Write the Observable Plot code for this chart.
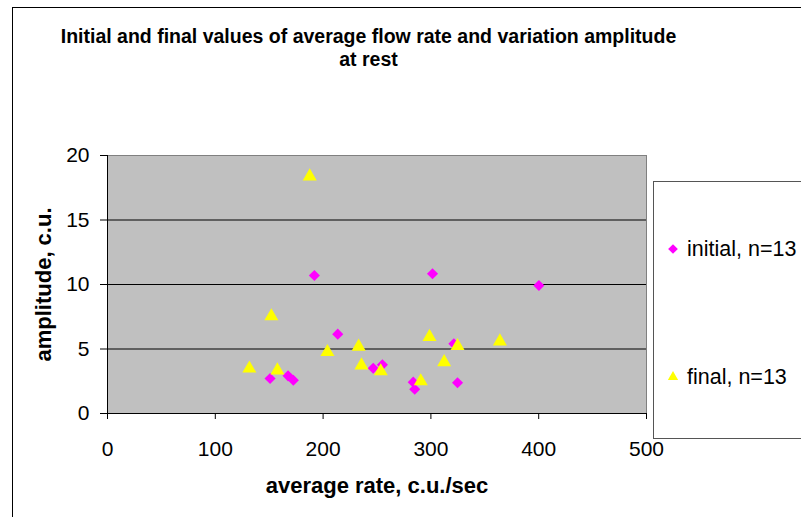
<!DOCTYPE html>
<html>
<head>
<meta charset="utf-8">
<script src="https://cdn.jsdelivr.net/npm/d3@7"></script>
<script src="https://cdn.jsdelivr.net/npm/@observablehq/plot@0.6"></script>
<style>
  html, body { margin: 0; padding: 0; background: #fff; overflow: hidden; }
  #wrap { position: relative; width: 801px; height: 517px; overflow: hidden; font-family: "Liberation Sans", Arial, sans-serif; }
  #outer { position: absolute; left: 12px; top: 7px; width: 900px; height: 700px; border: 1px solid #000; box-sizing: border-box; }
  #title { position: absolute; left: 0; width: 737px; top: 25px; text-align: center; font-weight: bold; font-size: 19.5px; line-height: 23px; color: #000; }
  #chart { position: absolute; left: 0; top: 0; }
  #legend { position: absolute; left: 653px; top: 181px; width: 300px; height: 258px; border: 1px solid #555; box-sizing: border-box; background: #fff; }
  .leg { position: absolute; left: 0; font-size: 21.5px; color: #000; white-space: nowrap; }
</style>
</head>
<body>
<div id="wrap">
  <div id="outer"></div>
  <div id="chart"></div>
  <div id="title">Initial and final values of average flow rate and variation amplitude<br>at rest</div>
  <div id="legend"></div>
</div>
<script>
// ---- data ----
const initialRate = [191.9, 213.6, 150.8, 167.5, 172.4, 246.5, 301.5, 400.2, 321.3, 255.0, 283.6, 285.0, 324.7];
const initialAmp  = [10.7, 6.15, 2.71, 2.92, 2.58, 3.51, 10.83, 9.92, 5.4, 3.77, 2.43, 1.88, 2.38];
const finalRate   = [187.6, 152.0, 233.0, 204.0, 235.6, 131.6, 157.6, 298.7, 324.7, 364.0, 312.3, 253.5, 290.6];
const finalAmp    = [18.5, 7.65, 5.3, 4.88, 3.85, 3.6, 3.46, 6.05, 5.35, 5.71, 4.1, 3.39, 2.61];
const seriesNames = ["initial, n=13", "final, n=13"];
const xTicks = [0, 100, 200, 300, 400, 500];
const yTicks = [0, 5, 10, 15, 20];
const gridValues = [5, 10, 15];
const xTitle = "average rate, c.u./sec";
const yTitle = "amplitude, c.u.";

const initial = initialRate.map((r, i) => ({rate: r, amp: initialAmp[i]}));
const final = finalRate.map((r, i) => ({rate: r, amp: finalAmp[i]}));

const chart = Plot.plot({
  width: 801,
  height: 517,
  marginLeft: 107,
  marginRight: 155,
  marginTop: 155,
  marginBottom: 104,
  style: {background: "transparent", fontFamily: "Liberation Sans, Arial, sans-serif", overflow: "visible"},
  x: {domain: [0, 500], ticks: xTicks},
  y: {domain: [0, 20], ticks: yTicks},
  marks: [
    Plot.frame({fill: "#c0c0c0", stroke: "#808080"}),
    Plot.gridY(gridValues, {stroke: "#000", strokeOpacity: 1, strokeWidth: 1}),
    Plot.ruleX([0], {stroke: "#000"}),
    Plot.ruleY([0], {stroke: "#000"}),
    Plot.axisX(xTicks, {tickSize: 6, tickPadding: 22, fontSize: 21, label: null, stroke: "#000", color: "#000"}),
    Plot.axisY(yTicks, {tickSize: 7, tickPadding: 11, fontSize: 21, label: null, stroke: "#000", color: "#000"}),
    Plot.dot(initial, {x: "rate", y: "amp", symbol: "diamond2", r: 5, fill: "#ff00ff", stroke: "none"}),
    Plot.dot(final, {x: "rate", y: "amp", symbol: "triangle", r: 5.2, fill: "#ffff00", stroke: "none", dy: 1.5}),
    Plot.text([xTitle], {frameAnchor: "bottom", dy: 79, fontSize: 22, fontWeight: "bold", fill: "#000"}),
    Plot.text([yTitle], {frameAnchor: "left", textAnchor: "middle", dx: -64, rotate: -90, fontSize: 22, fontWeight: "bold", fill: "#000"})
  ]
});
document.getElementById("chart").appendChild(chart);

// legend
const legend = document.getElementById("legend");
const symbols = [
  {name: seriesNames[0], color: "#ff00ff", type: d3.symbolDiamond2, size: 60, top: 55},
  {name: seriesNames[1], color: "#ffff00", type: d3.symbolTriangle2, size: 75, top: 183}
];
symbols.forEach(s => {
  const row = document.createElement("div");
  row.className = "leg";
  row.style.top = s.top + "px";
  const svg = d3.create("svg").attr("width", 30).attr("height", 24).style("position", "absolute").style("left", "6px").style("top", "0px");
  svg.append("path").attr("transform", "translate(13,12)").attr("d", d3.symbol(s.type, s.size)()).attr("fill", s.color);
  row.appendChild(svg.node());
  const span = document.createElement("span");
  span.textContent = s.name;
  span.style.position = "absolute";
  span.style.left = "33px";
  span.style.top = "0px";
  span.style.lineHeight = "24px";
  row.appendChild(span);
  legend.appendChild(row);
});
</script>
</body>
</html>
